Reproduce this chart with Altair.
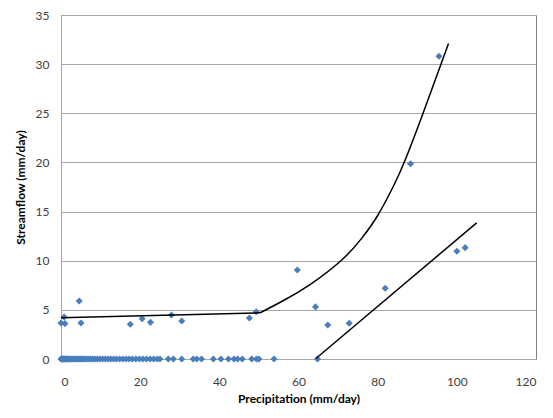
import altair as alt
import pandas as pd

# Observed points with streamflow 0
zero_x = [0, 0.1, 0.2, 0.3, 0.5, 0.6, 0.8, 1.0, 1.2, 1.5, 1.7, 2.0, 2.3, 2.6, 3.0, 3.3,
          3.7, 4.0, 4.4, 4.8, 5.2, 5.6, 6.0, 6.5, 7.0, 7.5, 8.0, 8.6, 9.2, 9.8, 10.5,
          11.2, 11.9, 12.6, 13.3, 14.0, 14.8, 15.6, 16.4, 17.2, 18.0, 18.9, 19.8, 20.7,
          21.6, 22.5, 23.4, 24.3, 25.0, 27.1, 28.4, 30.5, 33.4, 34.3, 35.5, 38.5, 40.4,
          42.3, 43.7, 44.6, 45.8, 48.2, 49.4, 50.0, 53.8, 64.8]

# Observed points with non-zero streamflow
nz_x = [0, 0.8, 1.0, 4.6, 5.05, 17.5, 20.5, 22.6, 27.9, 30.5, 47.6, 49.3, 59.7, 64.3,
        67.4, 72.8, 81.9, 88.3, 95.5, 100.0, 102.1]
nz_y = [3.66, 4.27, 3.6, 5.9, 3.66, 3.53, 4.1, 3.73, 4.47, 3.87, 4.17, 4.8, 9.05, 5.3,
        3.46, 3.63, 7.2, 19.87, 30.8, 10.96, 11.33]

# Fitted lines
flat_x = [0, 50.3]
flat_y = [4.2, 4.7]
curve_x = [50.3, 56, 63, 71, 76, 80, 84, 87, 91, 95, 97.9]
curve_y = [4.7, 5.9, 7.6, 10.1, 12.3, 14.6, 17.6, 20.3, 24.5, 28.9, 32.1]
lin_x = [64.4, 105.0]
lin_y = [0.05, 13.85]

pts = pd.DataFrame({
    "x": zero_x + nz_x,
    "y": [0.0] * len(zero_x) + nz_y,
})
straight = pd.DataFrame({
    "x": flat_x + lin_x,
    "y": flat_y + lin_y,
    "seg": ["a", "a", "b", "b"],
})
curve = pd.DataFrame({"x": curve_x, "y": curve_y})

FONT = "Lato"

xs = alt.Scale(domain=[0, 120], nice=False)
ys = alt.Scale(domain=[0, 35], nice=False)

xaxis = alt.Axis(title="Precipitation (mm/day)", values=[0, 20, 40, 60, 80, 100, 120],
                 grid=False, domain=False, ticks=False, labelPadding=17,
                 labelFontSize=12, labelColor="#404040", labelFont=FONT,
                 titleFont=FONT, titleFontSize=12, titleFontWeight="bold",
                 titleColor="#000000", titlePadding=6)
yaxis = alt.Axis(title="Streamflow (mm/day)", values=[0, 5, 10, 15, 20, 25, 30, 35],
                 grid=True, gridColor="#a6a6a6", gridWidth=1,
                 domain=True, domainColor="#a6a6a6", ticks=False, labelPadding=12,
                 labelFontSize=12, labelColor="#404040", labelFont=FONT,
                 titleFont=FONT, titleFontSize=12, titleFontWeight="bold",
                 titleColor="#000000", titlePadding=8)

points = alt.Chart(pts).mark_point(shape="diamond", filled=True, color="#4a7ebb",
                                   size=50, opacity=1).encode(
    x=alt.X("x:Q", scale=xs, axis=xaxis),
    y=alt.Y("y:Q", scale=ys, axis=yaxis),
)

lines = alt.Chart(straight).mark_line(color="#000000", strokeWidth=1.5).encode(
    x=alt.X("x:Q", scale=xs),
    y=alt.Y("y:Q", scale=ys),
    detail="seg:N",
)

curv = alt.Chart(curve).mark_line(color="#000000", strokeWidth=1.5,
                                  interpolate="natural").encode(
    x=alt.X("x:Q", scale=xs),
    y=alt.Y("y:Q", scale=ys),
)

chart = alt.layer(points, lines, curv).properties(
    width=475, height=344,
    autosize=alt.AutoSizeParams(type="none"),
    padding={"left": 53, "top": 7, "right": 9, "bottom": 51},
    background="#ffffff",
).configure_view(stroke="#7f7f7f", strokeWidth=1)

chart.save("out.html", embed_options={"renderer": "svg", "actions": False})
